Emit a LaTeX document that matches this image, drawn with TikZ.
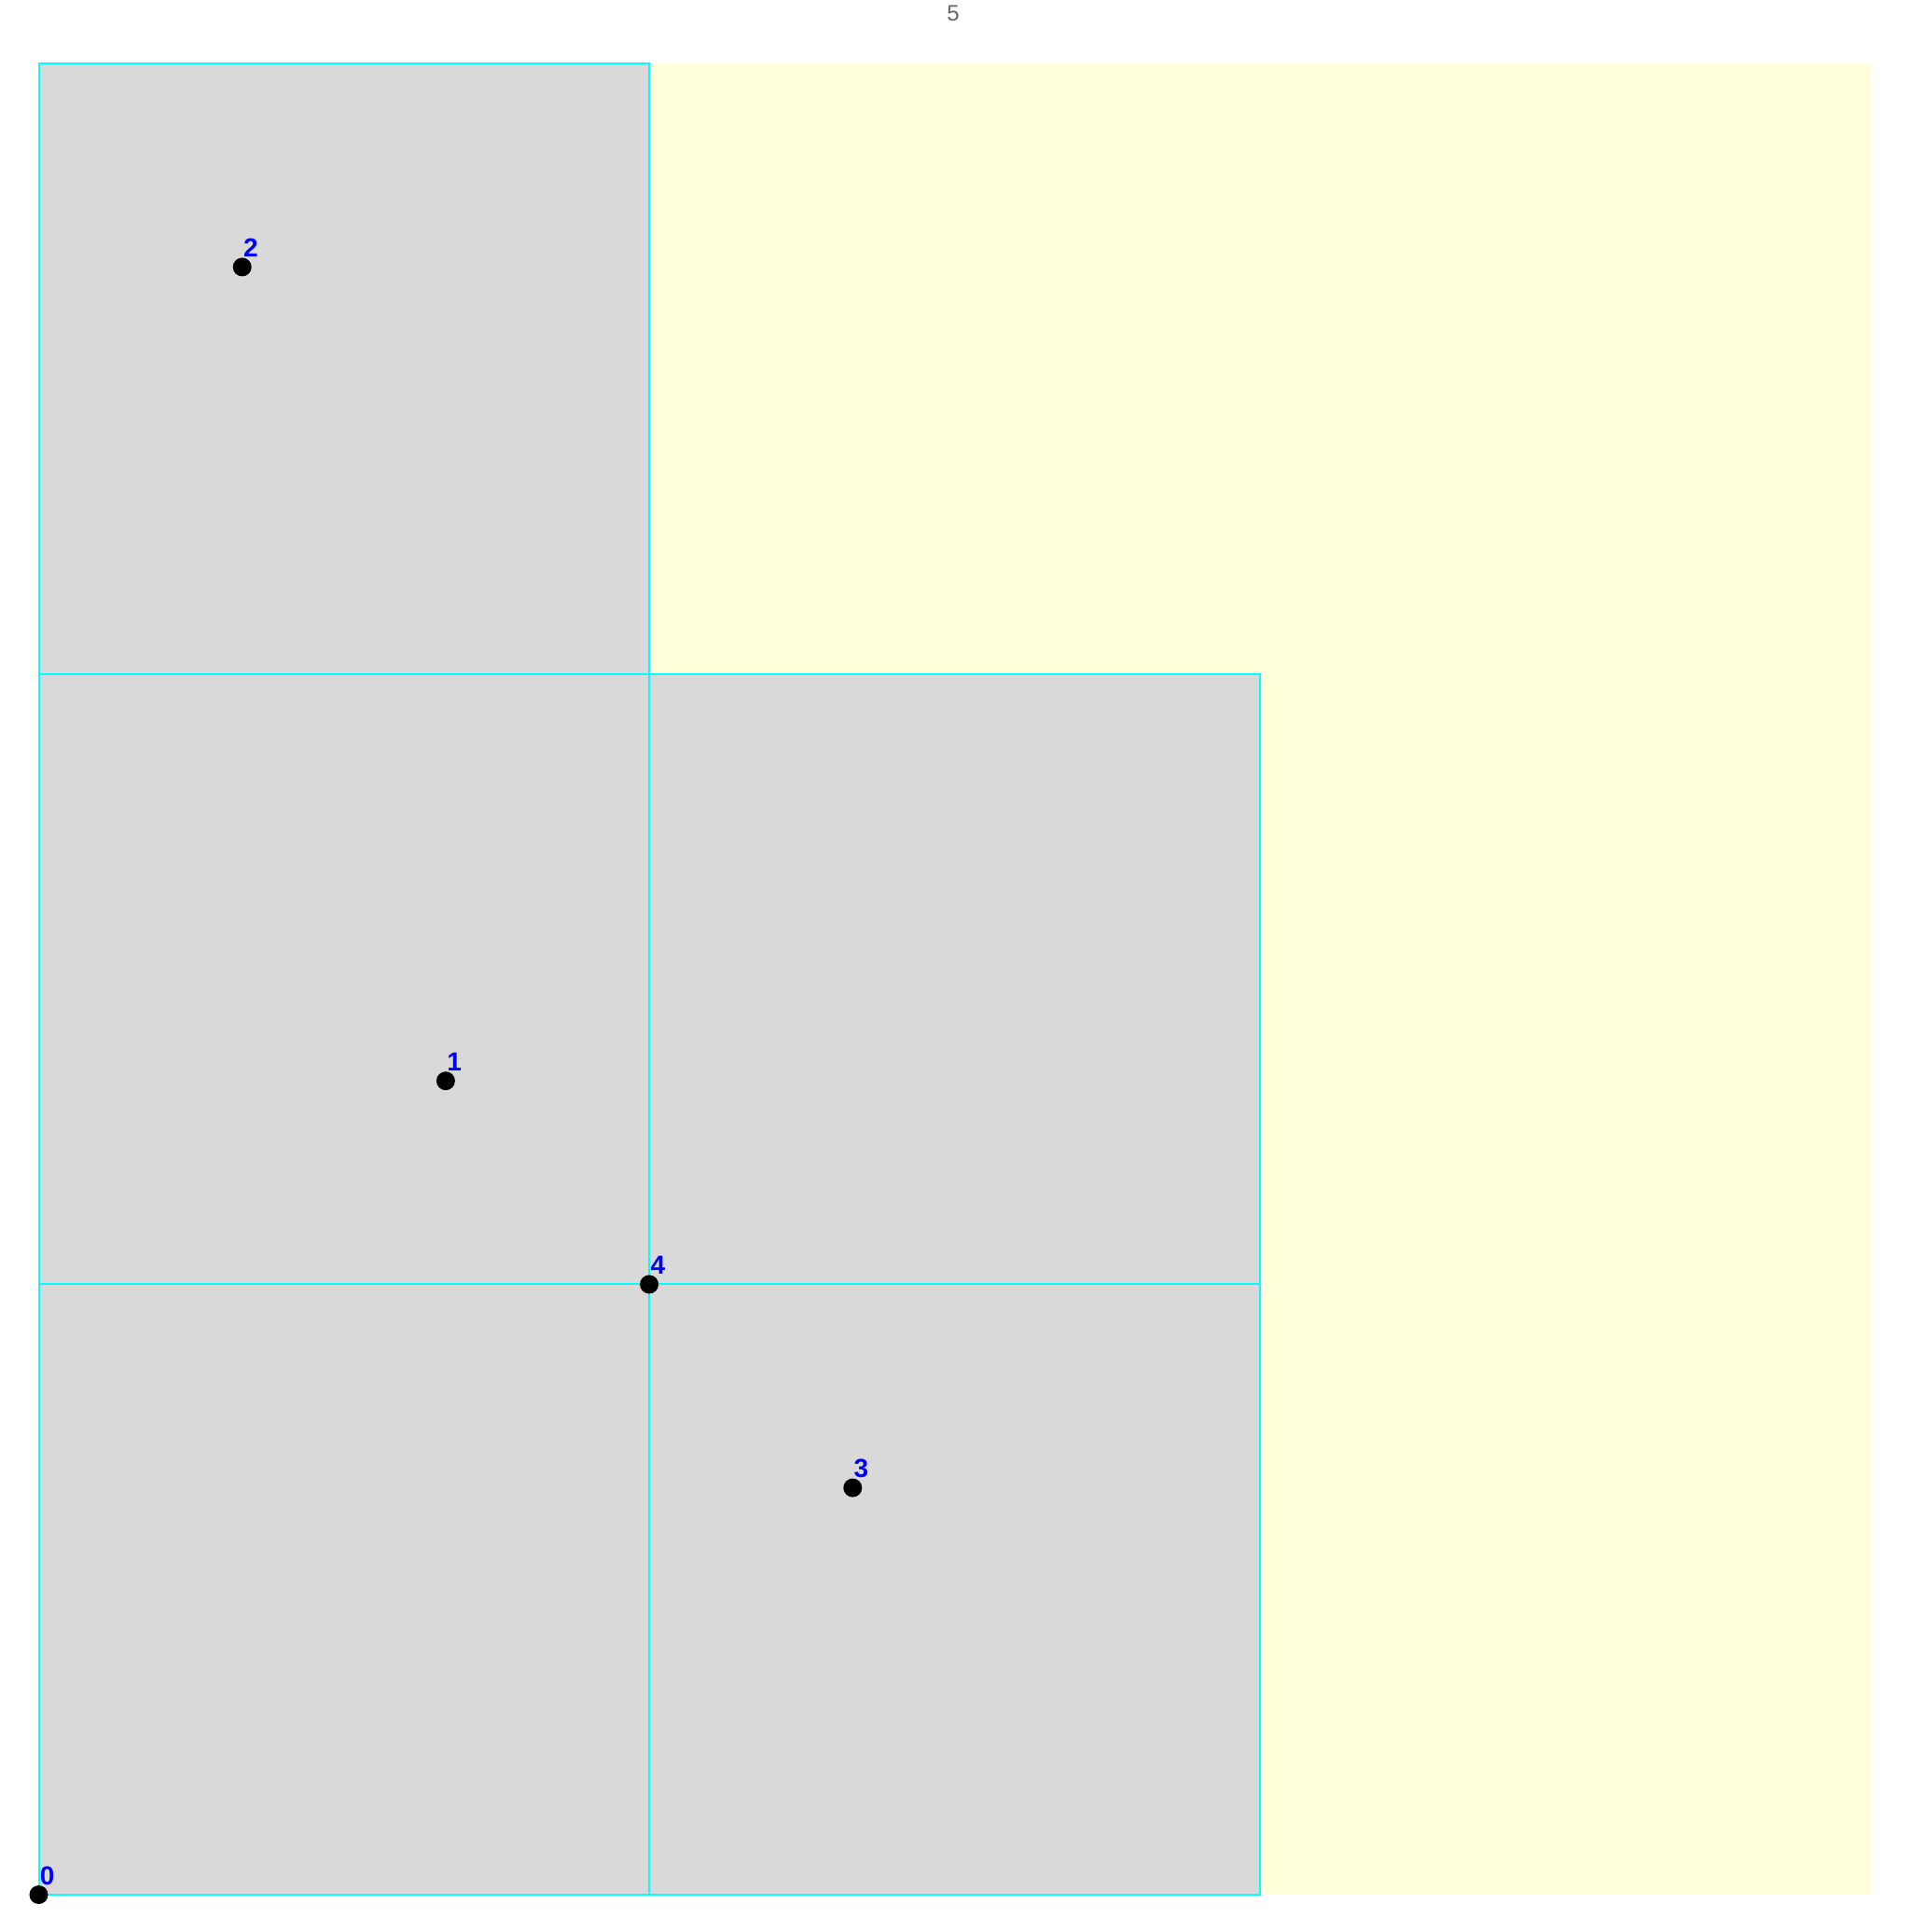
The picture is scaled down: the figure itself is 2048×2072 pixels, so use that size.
\documentclass[tikz,border=0pt]{standalone}
\usepackage{fontspec}
\setmainfont{Liberation Sans}
\definecolor{cellgrey}{HTML}{D9D9D9}
\definecolor{bgyellow}{HTML}{FFFFD9}
\definecolor{gridcyan}{HTML}{00FFFF}
\definecolor{titlegrey}{HTML}{666666}
\begin{document}
\begin{tikzpicture}[x=0.5pt,y=-0.5pt,
  cell/.style={fill=cellgrey,draw=gridcyan,line width=1pt},
  dot/.style={circle,fill=black,inner sep=0pt,minimum size=10pt},
  lab/.style={anchor=base west,inner sep=0pt,text=blue,font=\bfseries\fontsize{14}{14}\selectfont}]
\useasboundingbox (0,0) rectangle (2048,2072);
\node[text=titlegrey,font=\fontsize{12}{12}\selectfont,anchor=base] (title) at (1022,22) {5};
\begin{scope}[shift={(41.5,2032)},x=109.1pt,y=109.1pt]
  \fill[bgyellow] (0,0) rectangle (9,9);
  \draw[cell] (0,0) rectangle (3,3);
  \draw[cell] (3,0) rectangle (6,3);
  \draw[cell] (0,3) rectangle (3,6);
  \draw[cell] (3,3) rectangle (6,6);
  \draw[cell] (0,6) rectangle (3,9);
  \foreach \n/\px/\py in {0/0/0,1/2/4,2/1/8,3/4/2,4/3/3}{
    \node[dot] (p\n) at (\px,\py) {};
    \node[lab] (l\n) at ([shift={(0.5pt,5.5pt)}]p\n.center) {\n};
  }
\end{scope}
\end{tikzpicture}
\end{document}
